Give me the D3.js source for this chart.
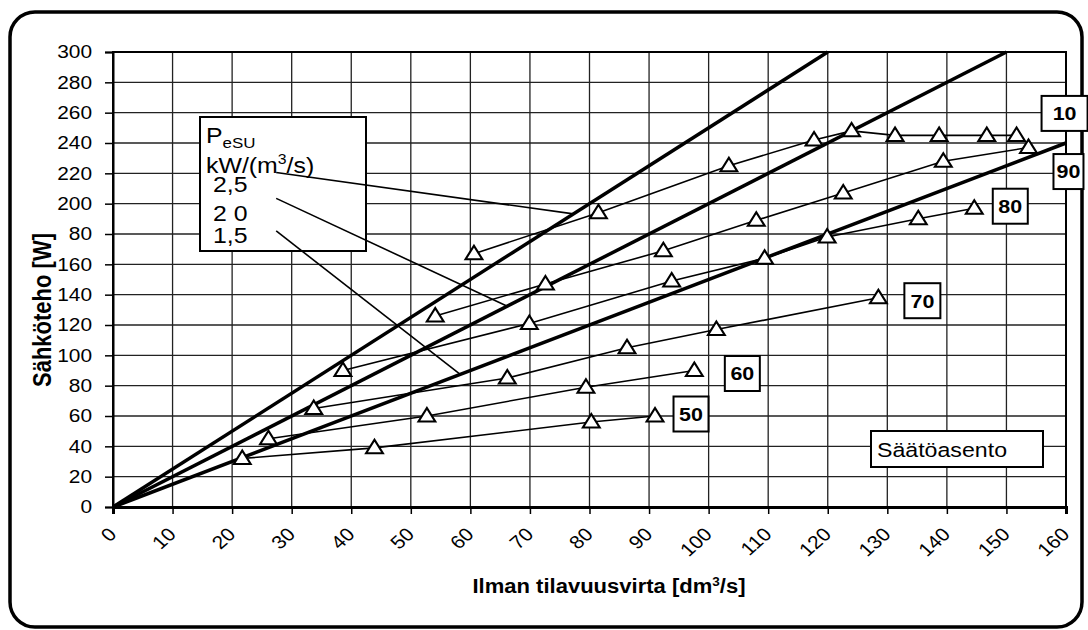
<!DOCTYPE html>
<html>
<head>
<meta charset="utf-8">
<script src="https://cdn.jsdelivr.net/npm/d3@7"></script>
<style>
  body { margin: 0; background: #fff; }
  text { font-family: "Liberation Sans", Arial, sans-serif; }
</style>
</head>
<body>
<svg id="chart" width="1088" height="630"></svg>
<script>
// tick values and labels as printed on the chart
let xTicks = [0, 10, 20, 30, 40, 50, 60, 70, 80, 90, 100, 110, 120, 130, 140, 150, 160];
let yTicks = [0, 20, 40, 60, 80, 100, 120, 140, 160, 180, 200, 220, 240, 260, 280, 300];
let yLabels = ["0", "20", "40", "60", "80", "100", "120", "140", "160", "80", "200", "220", "240", "260", "280", "300"];

// specific fan power lines, kW/(m3/s)
let sfpValues = [2.5, 2.0, 1.5];
let sfpLabels = ["2,5", "2 0", "1,5"];

// measured points per damper setting (Säätöasento)
let settings = ["10", "90", "80", "70", "60", "50"];
let flow10 = [60.6, 81.5, 103.4, 117.7, 124, 131.3, 138.7, 146.7, 151.7];
let power10 = [167, 194, 225, 242, 248, 245, 245, 245, 245];
let flow90 = [54.1, 72.6, 92.4, 108, 122.6, 139.4, 153.7];
let power90 = [126, 147, 169, 189, 207, 228, 237];
let flow80 = [38.6, 69.9, 93.8, 109.4, 119.9, 135.2, 144.6];
let power80 = [90, 121, 149, 164, 178, 190, 197];
let flow70 = [33.7, 66.2, 86.3, 101.3, 128.5];
let power70 = [65, 85, 105, 117, 138];
let flow60 = [26.1, 52.7, 79.4, 97.6];
let power60 = [45, 60, 79, 90];
let flow50 = [21.7, 43.9, 80.3, 91];
let power50 = [32, 39, 56, 60];

let series = [
    { name: "10", flow: flow10, power: power10 },
    { name: "90", flow: flow90, power: power90 },
    { name: "80", flow: flow80, power: power80 },
    { name: "70", flow: flow70, power: power70 },
    { name: "60", flow: flow60, power: power60 },
    { name: "50", flow: flow50, power: power50 }
];

let svg = d3.select("#chart");
let margin = { left: 113, top: 52, right: 1066, bottom: 507 };
let sx = 1.13;   // the original picture is a bit wider than tall

let x = d3.scaleLinear().domain([0, 160]).range([margin.left, margin.right]);
let y = d3.scaleLinear().domain([0, 300]).range([margin.bottom, margin.top]);

function label(parent, px, py, size) {
    return parent.append("text")
        .attr("transform", `translate(${px},${py}) scale(${sx},1)`)
        .attr("font-size", size);
}

// outer frame
svg.append("rect")
    .attr("x", 10).attr("y", 12)
    .attr("width", 1072).attr("height", 615)
    .attr("rx", 25)
    .attr("fill", "#fff")
    .attr("stroke", "#000")
    .attr("stroke-width", 3.5);

// grid
let grid = svg.append("g");
grid.selectAll(".vg").data(xTicks).enter().append("line")
    .attr("x1", d => x(d)).attr("x2", d => x(d))
    .attr("y1", y(0)).attr("y2", y(300))
    .attr("stroke", "#222").attr("stroke-width", 1.3);
grid.selectAll(".hg").data(yTicks).enter().append("line")
    .attr("x1", x(0)).attr("x2", x(160))
    .attr("y1", d => y(d)).attr("y2", d => y(d))
    .attr("stroke", "#222").attr("stroke-width", 1.3);
svg.append("rect")
    .attr("x", x(0)).attr("y", y(300))
    .attr("width", x(160) - x(0)).attr("height", y(0) - y(300))
    .attr("fill", "none").attr("stroke", "#000").attr("stroke-width", 2);

// axes
let yAxis = svg.append("g")
    .attr("transform", `translate(${x(0)},0)`)
    .call(d3.axisLeft(y).tickValues(yTicks).tickFormat((d, i) => yLabels[i]).tickSize(8));
yAxis.select(".domain").attr("stroke-width", 2);
yAxis.selectAll(".tick line").attr("stroke-width", 1.5);
yAxis.selectAll("text")
    .attr("font-size", 18.5).attr("fill", "#000")
    .style("font-family", "'Liberation Sans', Arial, sans-serif")
    .attr("x", 0)
    .attr("transform", `translate(-21,0) scale(${sx},1)`);

let xAxis = svg.append("g")
    .attr("transform", `translate(0,${y(0)})`)
    .call(d3.axisBottom(x).tickValues(xTicks).tickSize(7));
xAxis.select(".domain").attr("stroke-width", 3);
xAxis.selectAll(".tick line").attr("stroke-width", 1.5);
xAxis.selectAll("text")
    .attr("font-size", 18.5).attr("fill", "#000")
    .style("font-family", "'Liberation Sans', Arial, sans-serif")
    .attr("text-anchor", "end")
    .attr("x", 0).attr("y", 0).attr("dy", "0.35em")
    .attr("transform", `translate(-1,24) scale(${sx},1) rotate(-45)`);

// axis titles
let xTitle = label(svg, 609, 593, 19.5)
    .attr("text-anchor", "middle")
    .attr("font-weight", "bold");
xTitle.append("tspan").text("Ilman tilavuusvirta [dm");
xTitle.append("tspan").text("3").attr("font-size", 12).attr("dy", -7);
xTitle.append("tspan").text("/s]").attr("dy", 7);

svg.append("text")
    .attr("transform", `translate(51,310) scale(${sx},1) rotate(-90)`)
    .attr("text-anchor", "middle")
    .attr("font-size", 22).attr("font-weight", "bold")
    .text("Sähköteho [W]");

// SFP lines through origin
let sfpGroup = svg.append("g");
sfpValues.forEach(k => {
    let xEnd = Math.min(160, 300 / k);
    sfpGroup.append("line")
        .attr("x1", x(0)).attr("y1", y(0))
        .attr("x2", x(xEnd)).attr("y2", y(k * xEnd))
        .attr("stroke", "#000").attr("stroke-width", 3.5);
});

// measured series
let line = d3.line().x(d => x(d[0])).y(d => y(d[1]));
let tri = d3.symbol().type(d3.symbolTriangle).size(105);

series.forEach(s => {
    let pts = s.flow.map((f, i) => [f, s.power[i]]);
    svg.append("path")
        .attr("d", line(pts))
        .attr("fill", "none").attr("stroke", "#000").attr("stroke-width", 1.6);
    svg.selectAll(null).data(pts).enter().append("path")
        .attr("d", tri)
        .attr("transform", d => `translate(${x(d[0])},${y(d[1]) + 1}) scale(1.08,1)`)
        .attr("fill", "#fff").attr("stroke", "#000").attr("stroke-width", 2);
});

// legend box for SFP
let legend = svg.append("g");
legend.append("rect")
    .attr("x", 200).attr("y", 117).attr("width", 166).attr("height", 134)
    .attr("fill", "#fff").attr("stroke", "#000").attr("stroke-width", 2);
let pText = label(legend, 206, 143, 22);
pText.append("tspan").text("P");
pText.append("tspan").text("eSU").attr("font-size", 15).attr("dy", 5);
let unitText = label(legend, 206, 173, 22);
unitText.append("tspan").text("kW/(m");
unitText.append("tspan").text("3").attr("font-size", 14).attr("dy", -9);
unitText.append("tspan").text("/s)").attr("dy", 9);
let labelY = [192, 221, 243];
sfpLabels.forEach((l, i) => {
    label(legend, 213, labelY[i], 22).text(l);
});

// leader lines from legend to each SFP line
let leaderStart = [[27.4, 220.5], [27.4, 203.5], [27.4, 182]];
let leaderEndFlow = [77.3, 66.2, 58.3];
sfpValues.forEach((k, i) => {
    svg.append("line")
        .attr("x1", x(leaderStart[i][0])).attr("y1", y(leaderStart[i][1]))
        .attr("x2", x(leaderEndFlow[i])).attr("y2", y(k * leaderEndFlow[i]))
        .attr("stroke", "#000").attr("stroke-width", 1.6);
});

// setting labels next to last point of each series
let labelOffsets = [[48, -22, 46], [40, 24, 30], [36, -2, 35], [44, 3, 36], [48, 3, 35], [36, -2, 35]];
series.forEach((s, i) => {
    let n = s.flow.length - 1;
    let cx = x(s.flow[n]) + labelOffsets[i][0];
    let cy = y(s.power[n]) + labelOffsets[i][1];
    let w = labelOffsets[i][2];
    svg.append("rect")
        .attr("x", cx - w / 2).attr("y", cy - 17.5)
        .attr("width", w).attr("height", 35)
        .attr("fill", "#fff").attr("stroke", "#000").attr("stroke-width", 2);
    label(svg, cx, cy, 19)
        .attr("dy", "0.36em")
        .attr("text-anchor", "middle")
        .attr("font-weight", "bold")
        .text(settings[i]);
});

// Säätöasento caption
svg.append("rect")
    .attr("x", 871).attr("y", 431).attr("width", 172).attr("height", 36)
    .attr("fill", "#fff").attr("stroke", "#000").attr("stroke-width", 2);
label(svg, 877, 457, 20.5).text("Säätöasento");
</script>
</body>
</html>
